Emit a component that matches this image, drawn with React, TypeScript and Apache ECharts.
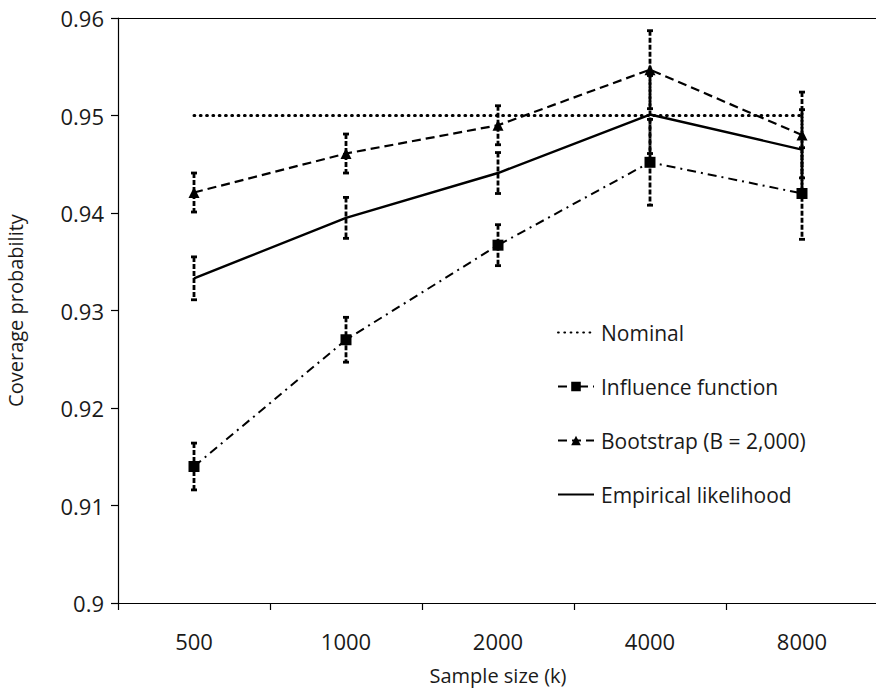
import React, { useEffect, useRef } from "react";
import * as echarts from "echarts";

const categories = ["500", "1000", "2000", "4000", "8000"];
const nominal = [0.95, 0.95, 0.95, 0.95, 0.95];
const influence = [0.914, 0.927, 0.9367, 0.9452, 0.942];
const influenceErr = [0.0024, 0.0023, 0.0021, 0.0044, 0.0047];
const bootstrap = [0.9421, 0.9461, 0.949, 0.9547, 0.948];
const bootstrapErr = [0.002, 0.002, 0.002, 0.004, 0.0044];
const empirical = [0.9333, 0.9395, 0.9441, 0.9501, 0.9465];
const empiricalErr = [0.0022, 0.0021, 0.0021, 0.004, 0.0041];
const seriesNames = ["Nominal", "Influence function", "Bootstrap (B = 2,000)", "Empirical likelihood"];

const FONT = "'Open Sans', 'Noto Sans', sans-serif";
const TXT = "#1a1a1a";

function errData(vals: number[], errs: number[]) {
  return vals.map((v, i) => [i, v - errs[i], v + errs[i]]);
}

function errorSeries(vals: number[], errs: number[]) {
  return {
    type: "custom",
    silent: true,
    z: 3,
    encode: { x: 0, y: [1, 2] },
    data: errData(vals, errs),
    renderItem: (params: any, api: any) => {
      const x = api.value(0);
      const lo = api.value(1);
      const hi = api.value(2);
      const p1 = api.coord([x, hi]);
      const p2 = api.coord([x, lo]);
      const hw = 3;
      return {
        type: "group",
        children: [
          {
            type: "line",
            shape: { x1: p1[0], y1: p1[1], x2: p2[0], y2: p2[1] },
            style: { stroke: "#000", lineWidth: 2.8, lineDash: [5, 2] },
          },
          {
            type: "line",
            shape: { x1: p1[0] - hw, y1: p1[1], x2: p1[0] + hw, y2: p1[1] },
            style: { stroke: "#000", lineWidth: 2.8 },
          },
          {
            type: "line",
            shape: { x1: p2[0] - hw, y1: p2[1], x2: p2[0] + hw, y2: p2[1] },
            style: { stroke: "#000", lineWidth: 2.8 },
          },
        ],
      };
    },
  };
}

const hidden = { color: "rgba(0,0,0,0)", borderWidth: 0, opacity: 0 };

export default function App() {
  const ref = useRef<HTMLDivElement>(null);
  useEffect(() => {
    if (!ref.current) return;
    const chart = echarts.init(ref.current, undefined, { renderer: "svg" });
    chart.setOption({
      animation: false,
      backgroundColor: "#fff",
      grid: {
        left: 118,
        top: 18,
        width: 760,
        height: 585,
        containLabel: false,
        outerBoundsMode: "none",
      },
      legend: {
        orient: "vertical",
        left: 552,
        top: 317,
        itemGap: 33,
        itemWidth: 36,
        itemHeight: 12,
        data: [
          { name: seriesNames[0], itemStyle: hidden },
          { name: seriesNames[1] },
          { name: seriesNames[2] },
          { name: seriesNames[3], itemStyle: hidden },
        ],
        textStyle: { fontFamily: FONT, fontSize: 21, color: TXT, padding: [0, 0, 0, 2] },
      },
      xAxis: [
        {
          type: "category",
          data: categories,
          boundaryGap: true,
          name: "Sample size (k)",
          nameLocation: "middle",
          nameGap: 62,
          nameTextStyle: { fontFamily: FONT, fontSize: 20, color: TXT },
          axisLine: { lineStyle: { color: "#000", width: 1.2 } },
          axisTick: { show: true, length: 7, lineStyle: { color: "#000", width: 1.2 } },
          axisLabel: { fontFamily: FONT, fontSize: 22, color: TXT, margin: 27 },
          splitLine: { show: false },
        },
        {
          type: "category",
          data: categories,
          position: "top",
          axisLine: { show: true, onZero: false, lineStyle: { color: "#000", width: 1.2 } },
          axisTick: { show: false },
          axisLabel: { show: false },
          splitLine: { show: false },
        },
      ],
      yAxis: [
        {
          type: "value",
          min: 0.9,
          max: 0.96,
          interval: 0.01,
          name: "Coverage probability",
          nameLocation: "middle",
          nameGap: 93,
          nameTextStyle: { fontFamily: FONT, fontSize: 20, color: TXT },
          axisLine: { show: true, lineStyle: { color: "#000", width: 1.2 } },
          axisTick: { show: true, length: 7, lineStyle: { color: "#000", width: 1.2 } },
          axisLabel: {
            fontFamily: FONT,
            fontSize: 22,
            color: TXT,
            margin: 14,
            formatter: (v: number) => String(+v.toFixed(2)),
          },
          splitLine: { show: false },
        },
        {
          type: "value",
          min: 0.9,
          max: 0.96,
          interval: 0.01,
          position: "right",
          axisLine: { show: true, lineStyle: { color: "#000", width: 1.2 } },
          axisTick: { show: false },
          axisLabel: { show: false },
          splitLine: { show: false },
        },
      ],
      series: [
        {
          name: seriesNames[0],
          type: "line",
          data: nominal,
          symbol: "none",
          z: 2,
          lineStyle: { color: "#000", width: 3, type: [0.8, 5.5], cap: "round" },
          itemStyle: { color: "#000" },
        },
        errorSeries(influence, influenceErr),
        errorSeries(bootstrap, bootstrapErr),
        errorSeries(empirical, empiricalErr),
        {
          name: seriesNames[1],
          type: "line",
          data: influence,
          symbol: "rect",
          symbolSize: 11,
          z: 4,
          lineStyle: { color: "#000", width: 2, type: [9, 5, 2, 5] },
          itemStyle: { color: "#000" },
        },
        {
          name: seriesNames[2],
          type: "line",
          data: bootstrap,
          symbol: "triangle",
          symbolSize: 11,
          z: 4,
          lineStyle: { color: "#000", width: 2.2, type: [9, 5] },
          itemStyle: { color: "#000" },
        },
        {
          name: seriesNames[3],
          type: "line",
          data: empirical,
          symbol: "none",
          z: 4,
          lineStyle: { color: "#000", width: 2.4, type: "solid" },
          itemStyle: { color: "#000" },
        },
      ],
    });
    return () => chart.dispose();
  }, []);
  return (
    <div
      ref={ref}
      style={{ position: "fixed", left: 0, top: 0, width: 876, height: 693, background: "#fff" }}
    />
  );
}
